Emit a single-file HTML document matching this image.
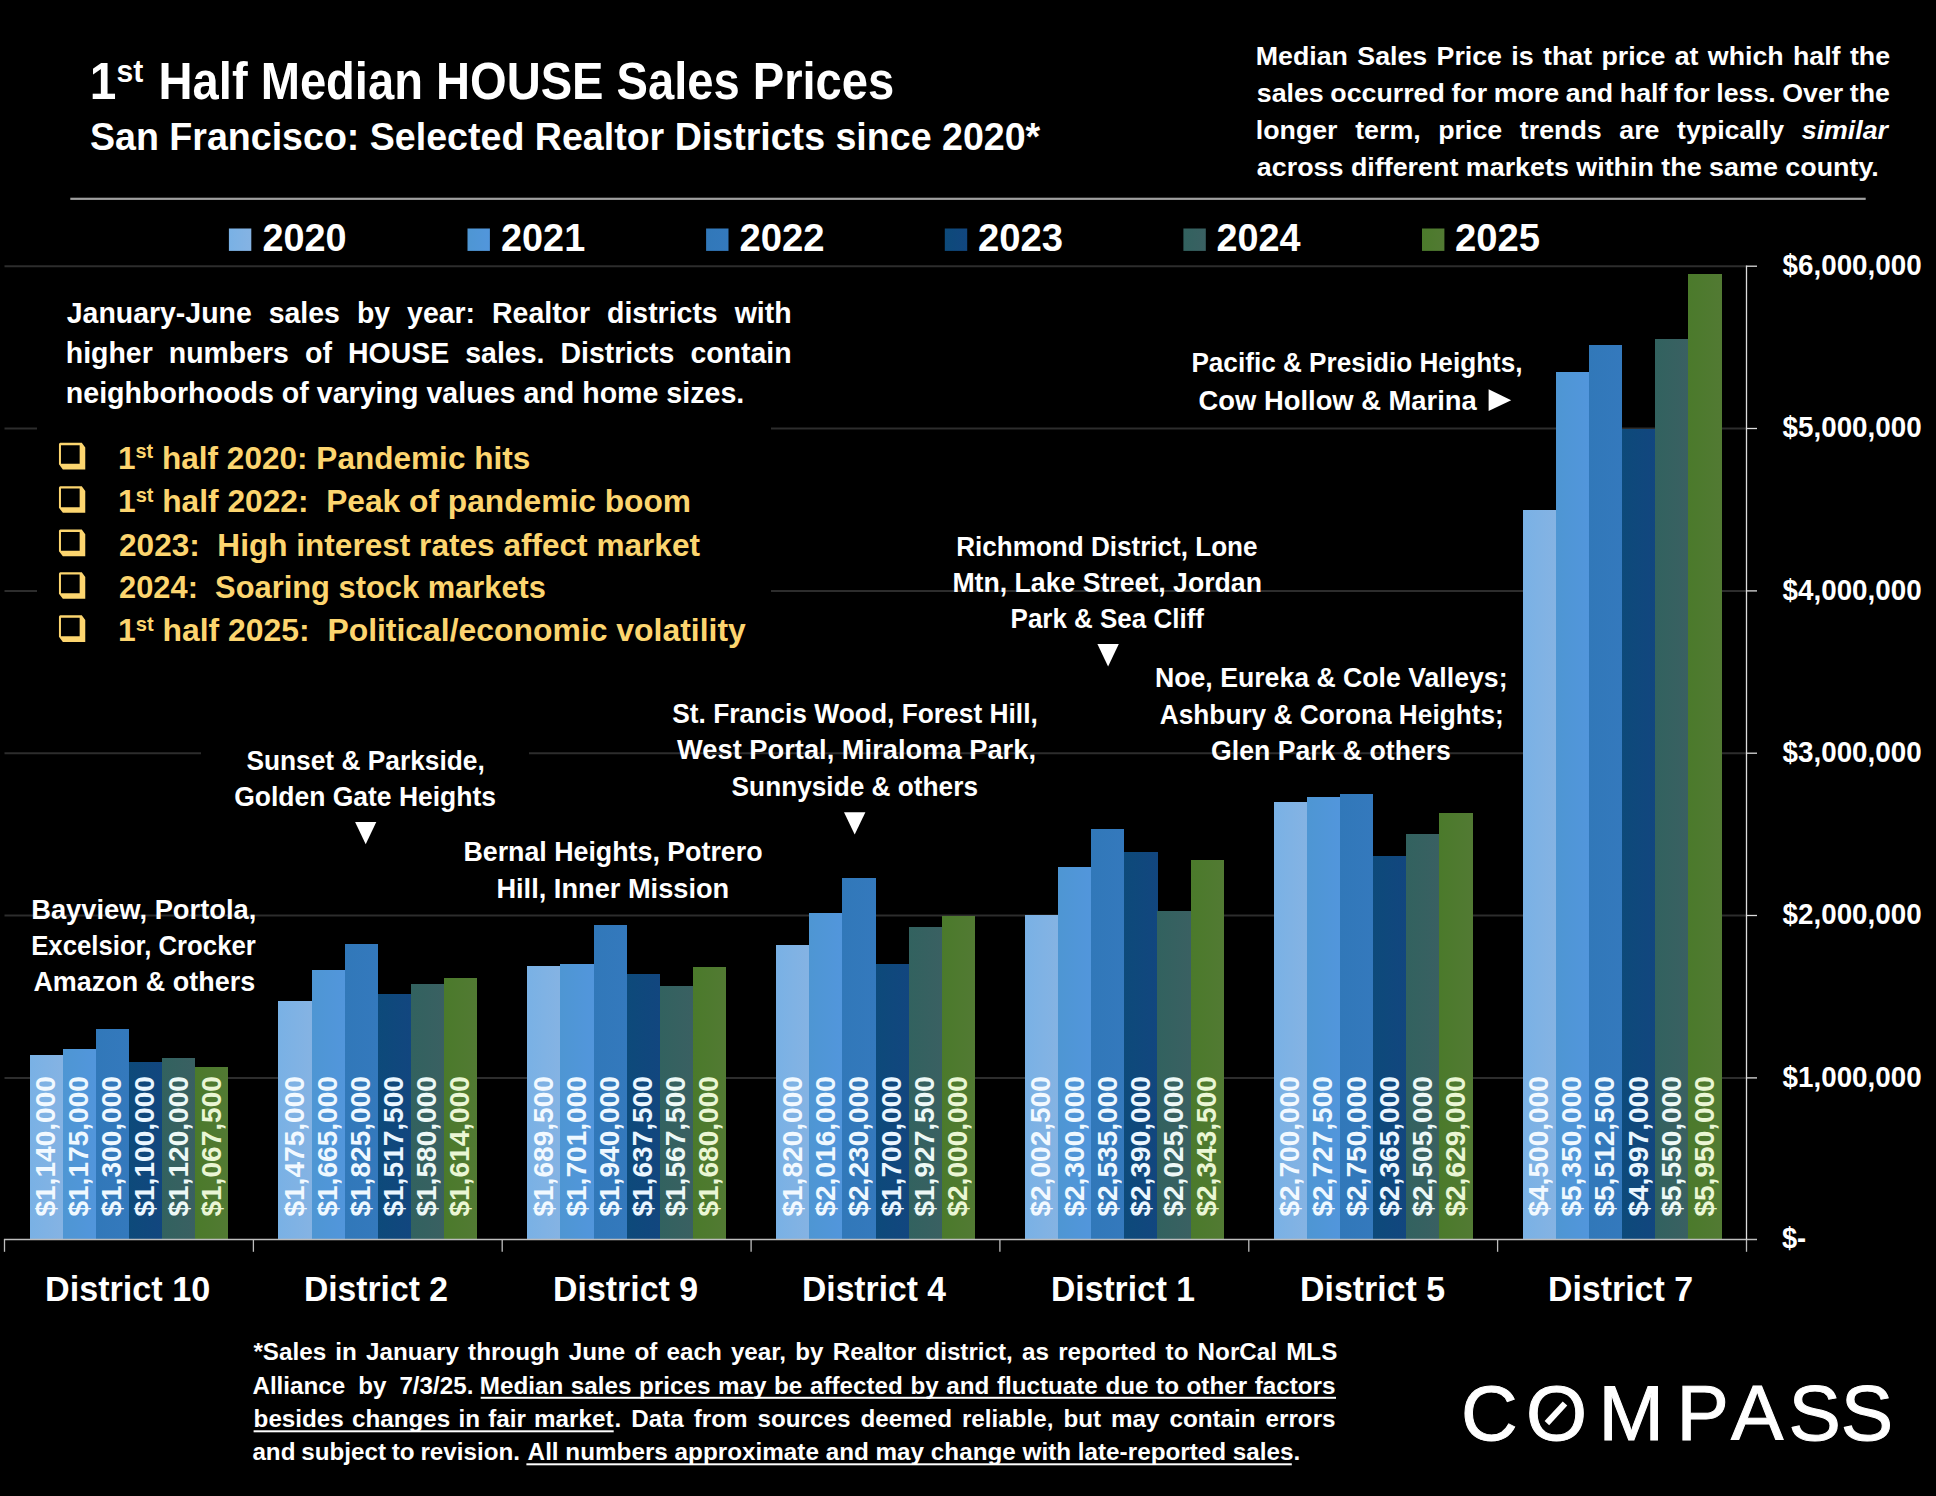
<!DOCTYPE html>
<html lang="en"><head><meta charset="utf-8"><title>1st Half Median HOUSE Sales Prices - San Francisco</title>
<style>html,body{margin:0;padding:0;background:#000}body{width:1936px;height:1496px;overflow:hidden}svg{display:block}text{white-space:pre}</style></head><body>
<svg width="1936" height="1496" viewBox="0 0 1936 1496">
<rect width="1936" height="1496" fill="#000"/>
<g font-family='"Liberation Sans", sans-serif' font-weight="bold" fill="#fff">
<defs>
<linearGradient id="g0" x1="0" y1="0" x2="1" y2="0"><stop offset="0" stop-color="#79b1e5"/><stop offset="1" stop-color="#85b3e3"/></linearGradient>
<linearGradient id="g1" x1="0" y1="0" x2="1" y2="0"><stop offset="0" stop-color="#4e96d3"/><stop offset="1" stop-color="#5296dc"/></linearGradient>
<linearGradient id="g2" x1="0" y1="0" x2="1" y2="0"><stop offset="0" stop-color="#3178b9"/><stop offset="1" stop-color="#3479bd"/></linearGradient>
<linearGradient id="g3" x1="0" y1="0" x2="1" y2="0"><stop offset="0" stop-color="#0d4a7a"/><stop offset="1" stop-color="#12467f"/></linearGradient>
<linearGradient id="g4" x1="0" y1="0" x2="1" y2="0"><stop offset="0" stop-color="#32625f"/><stop offset="1" stop-color="#3a6062"/></linearGradient>
<linearGradient id="g5" x1="0" y1="0" x2="1" y2="0"><stop offset="0" stop-color="#4b7a2b"/><stop offset="1" stop-color="#527a33"/></linearGradient>
</defs>
<g stroke="#2d2d2d" stroke-width="2">
<line x1="4.5" y1="1077.9" x2="1746.5" y2="1077.9"/>
<line x1="4.5" y1="915.5" x2="1746.5" y2="915.5"/>
<line x1="4.5" y1="753.2" x2="1746.5" y2="753.2"/>
<line x1="4.5" y1="590.9" x2="1746.5" y2="590.9"/>
<line x1="4.5" y1="428.5" x2="1746.5" y2="428.5"/>
<line x1="4.5" y1="266.2" x2="1746.5" y2="266.2"/>
</g>
<rect x="37" y="290" width="734" height="372" fill="#000"/>
<rect x="201" y="735" width="328" height="112" fill="#000"/>
<rect x="70.3" y="197.7" width="1795.4" height="2.2" fill="#a0a0a0"/>
<rect x="228.9" y="228.5" width="22.4" height="22.4" fill="url(#g0)"/>
<rect x="467.5" y="228.5" width="22.4" height="22.4" fill="url(#g1)"/>
<rect x="706.1" y="228.5" width="22.4" height="22.4" fill="url(#g2)"/>
<rect x="944.8" y="228.5" width="22.4" height="22.4" fill="url(#g3)"/>
<rect x="1183.4" y="228.5" width="22.4" height="22.4" fill="url(#g4)"/>
<rect x="1422.0" y="228.5" width="22.4" height="22.4" fill="url(#g5)"/>
<g shape-rendering="crispEdges">
<rect x="29.54" y="1055.14" width="33.18" height="184.46" fill="url(#g0)"/>
<rect x="62.67" y="1049.46" width="33.18" height="190.14" fill="url(#g1)"/>
<rect x="95.80" y="1029.17" width="33.18" height="210.43" fill="url(#g2)"/>
<rect x="128.93" y="1061.63" width="33.18" height="177.97" fill="url(#g3)"/>
<rect x="162.06" y="1058.39" width="33.18" height="181.21" fill="url(#g4)"/>
<rect x="195.19" y="1066.91" width="33.18" height="172.69" fill="url(#g5)"/>
<rect x="278.40" y="1000.76" width="33.18" height="238.84" fill="url(#g0)"/>
<rect x="311.53" y="969.91" width="33.18" height="269.68" fill="url(#g1)"/>
<rect x="344.66" y="943.94" width="33.18" height="295.66" fill="url(#g2)"/>
<rect x="377.79" y="993.86" width="33.18" height="245.74" fill="url(#g3)"/>
<rect x="410.92" y="983.71" width="33.18" height="255.89" fill="url(#g4)"/>
<rect x="444.05" y="978.19" width="33.18" height="261.41" fill="url(#g5)"/>
<rect x="527.25" y="965.94" width="33.18" height="273.66" fill="url(#g0)"/>
<rect x="560.38" y="964.07" width="33.18" height="275.53" fill="url(#g1)"/>
<rect x="593.51" y="925.27" width="33.18" height="314.33" fill="url(#g2)"/>
<rect x="626.64" y="974.38" width="33.18" height="265.22" fill="url(#g3)"/>
<rect x="659.77" y="985.74" width="33.18" height="253.86" fill="url(#g4)"/>
<rect x="692.90" y="967.48" width="33.18" height="272.12" fill="url(#g5)"/>
<rect x="776.11" y="944.75" width="33.18" height="294.85" fill="url(#g0)"/>
<rect x="809.24" y="912.94" width="33.18" height="326.66" fill="url(#g1)"/>
<rect x="842.37" y="878.20" width="33.18" height="361.40" fill="url(#g2)"/>
<rect x="875.50" y="964.23" width="33.18" height="275.37" fill="url(#g3)"/>
<rect x="908.63" y="927.30" width="33.18" height="312.30" fill="url(#g4)"/>
<rect x="941.76" y="915.53" width="33.18" height="324.07" fill="url(#g5)"/>
<rect x="1024.97" y="915.13" width="33.18" height="324.47" fill="url(#g0)"/>
<rect x="1058.10" y="866.83" width="33.18" height="372.77" fill="url(#g1)"/>
<rect x="1091.23" y="828.69" width="33.18" height="410.91" fill="url(#g2)"/>
<rect x="1124.36" y="852.22" width="33.18" height="387.38" fill="url(#g3)"/>
<rect x="1157.49" y="911.48" width="33.18" height="328.12" fill="url(#g4)"/>
<rect x="1190.62" y="859.77" width="33.18" height="379.83" fill="url(#g5)"/>
<rect x="1273.82" y="801.90" width="33.18" height="437.70" fill="url(#g0)"/>
<rect x="1306.95" y="797.44" width="33.18" height="442.16" fill="url(#g1)"/>
<rect x="1340.08" y="793.78" width="33.18" height="445.82" fill="url(#g2)"/>
<rect x="1373.21" y="856.28" width="33.18" height="383.32" fill="url(#g3)"/>
<rect x="1406.34" y="833.56" width="33.18" height="406.04" fill="url(#g4)"/>
<rect x="1439.47" y="813.43" width="33.18" height="426.17" fill="url(#g5)"/>
<rect x="1522.68" y="509.70" width="33.18" height="729.90" fill="url(#g0)"/>
<rect x="1555.81" y="371.72" width="33.18" height="867.88" fill="url(#g1)"/>
<rect x="1588.94" y="345.34" width="33.18" height="894.26" fill="url(#g2)"/>
<rect x="1622.07" y="429.02" width="33.18" height="810.58" fill="url(#g3)"/>
<rect x="1655.20" y="339.25" width="33.18" height="900.35" fill="url(#g4)"/>
<rect x="1688.33" y="274.32" width="33.18" height="965.28" fill="url(#g5)"/>
</g>
<g stroke="#bdbdbd" stroke-width="1.3" fill="none">
<line x1="3.9" y1="1239.5" x2="1757.0" y2="1239.5"/>
<line x1="4.5" y1="1239.5" x2="4.5" y2="1251.8"/>
<line x1="253.4" y1="1239.5" x2="253.4" y2="1251.8"/>
<line x1="502.2" y1="1239.5" x2="502.2" y2="1251.8"/>
<line x1="751.1" y1="1239.5" x2="751.1" y2="1251.8"/>
<line x1="999.9" y1="1239.5" x2="999.9" y2="1251.8"/>
<line x1="1248.8" y1="1239.5" x2="1248.8" y2="1251.8"/>
<line x1="1497.6" y1="1239.5" x2="1497.6" y2="1251.8"/>
<line x1="1746.5" y1="1239.5" x2="1746.5" y2="1251.8"/>
</g><g stroke="#dcdcdc" stroke-width="1.3" fill="none">
<line x1="1746.5" y1="265.6" x2="1746.5" y2="1239.5"/>
<line x1="1746.5" y1="1077.9" x2="1757.0" y2="1077.9"/>
<line x1="1746.5" y1="915.5" x2="1757.0" y2="915.5"/>
<line x1="1746.5" y1="753.2" x2="1757.0" y2="753.2"/>
<line x1="1746.5" y1="590.9" x2="1757.0" y2="590.9"/>
<line x1="1746.5" y1="428.5" x2="1757.0" y2="428.5"/>
<line x1="1746.5" y1="266.2" x2="1757.0" y2="266.2"/>
</g>
<text font-size="28" transform="translate(54.9 1216.6) rotate(-90)" textLength="140.5" lengthAdjust="spacingAndGlyphs" fill="#f2f9ff">$1,140,000</text>
<text font-size="28" transform="translate(88.1 1216.6) rotate(-90)" textLength="140.5" lengthAdjust="spacingAndGlyphs" fill="#eef8ff">$1,175,000</text>
<text font-size="28" transform="translate(121.2 1216.6) rotate(-90)" textLength="140.5" lengthAdjust="spacingAndGlyphs" fill="#eef8ff">$1,300,000</text>
<text font-size="28" transform="translate(154.3 1216.6) rotate(-90)" textLength="140.5" lengthAdjust="spacingAndGlyphs" fill="#eaf6ff">$1,100,000</text>
<text font-size="28" transform="translate(187.5 1216.6) rotate(-90)" textLength="140.5" lengthAdjust="spacingAndGlyphs" fill="#edf8f6">$1,120,000</text>
<text font-size="28" transform="translate(220.6 1216.6) rotate(-90)" textLength="140.5" lengthAdjust="spacingAndGlyphs" fill="#eaf6d4">$1,067,500</text>
<text font-size="28" transform="translate(303.8 1216.6) rotate(-90)" textLength="140.5" lengthAdjust="spacingAndGlyphs" fill="#f2f9ff">$1,475,000</text>
<text font-size="28" transform="translate(336.9 1216.6) rotate(-90)" textLength="140.5" lengthAdjust="spacingAndGlyphs" fill="#eef8ff">$1,665,000</text>
<text font-size="28" transform="translate(370.1 1216.6) rotate(-90)" textLength="140.5" lengthAdjust="spacingAndGlyphs" fill="#eef8ff">$1,825,000</text>
<text font-size="28" transform="translate(403.2 1216.6) rotate(-90)" textLength="140.5" lengthAdjust="spacingAndGlyphs" fill="#eaf6ff">$1,517,500</text>
<text font-size="28" transform="translate(436.3 1216.6) rotate(-90)" textLength="140.5" lengthAdjust="spacingAndGlyphs" fill="#edf8f6">$1,580,000</text>
<text font-size="28" transform="translate(469.4 1216.6) rotate(-90)" textLength="140.5" lengthAdjust="spacingAndGlyphs" fill="#eaf6d4">$1,614,000</text>
<text font-size="28" transform="translate(552.7 1216.6) rotate(-90)" textLength="140.5" lengthAdjust="spacingAndGlyphs" fill="#f2f9ff">$1,689,500</text>
<text font-size="28" transform="translate(585.8 1216.6) rotate(-90)" textLength="140.5" lengthAdjust="spacingAndGlyphs" fill="#eef8ff">$1,701,000</text>
<text font-size="28" transform="translate(618.9 1216.6) rotate(-90)" textLength="140.5" lengthAdjust="spacingAndGlyphs" fill="#eef8ff">$1,940,000</text>
<text font-size="28" transform="translate(652.0 1216.6) rotate(-90)" textLength="140.5" lengthAdjust="spacingAndGlyphs" fill="#eaf6ff">$1,637,500</text>
<text font-size="28" transform="translate(685.2 1216.6) rotate(-90)" textLength="140.5" lengthAdjust="spacingAndGlyphs" fill="#edf8f6">$1,567,500</text>
<text font-size="28" transform="translate(718.3 1216.6) rotate(-90)" textLength="140.5" lengthAdjust="spacingAndGlyphs" fill="#eaf6d4">$1,680,000</text>
<text font-size="28" transform="translate(801.5 1216.6) rotate(-90)" textLength="140.5" lengthAdjust="spacingAndGlyphs" fill="#f2f9ff">$1,820,000</text>
<text font-size="28" transform="translate(834.6 1216.6) rotate(-90)" textLength="140.5" lengthAdjust="spacingAndGlyphs" fill="#eef8ff">$2,016,000</text>
<text font-size="28" transform="translate(867.8 1216.6) rotate(-90)" textLength="140.5" lengthAdjust="spacingAndGlyphs" fill="#eef8ff">$2,230,000</text>
<text font-size="28" transform="translate(900.9 1216.6) rotate(-90)" textLength="140.5" lengthAdjust="spacingAndGlyphs" fill="#eaf6ff">$1,700,000</text>
<text font-size="28" transform="translate(934.0 1216.6) rotate(-90)" textLength="140.5" lengthAdjust="spacingAndGlyphs" fill="#edf8f6">$1,927,500</text>
<text font-size="28" transform="translate(967.2 1216.6) rotate(-90)" textLength="140.5" lengthAdjust="spacingAndGlyphs" fill="#eaf6d4">$2,000,000</text>
<text font-size="28" transform="translate(1050.4 1216.6) rotate(-90)" textLength="140.5" lengthAdjust="spacingAndGlyphs" fill="#f2f9ff">$2,002,500</text>
<text font-size="28" transform="translate(1083.5 1216.6) rotate(-90)" textLength="140.5" lengthAdjust="spacingAndGlyphs" fill="#eef8ff">$2,300,000</text>
<text font-size="28" transform="translate(1116.6 1216.6) rotate(-90)" textLength="140.5" lengthAdjust="spacingAndGlyphs" fill="#eef8ff">$2,535,000</text>
<text font-size="28" transform="translate(1149.8 1216.6) rotate(-90)" textLength="140.5" lengthAdjust="spacingAndGlyphs" fill="#eaf6ff">$2,390,000</text>
<text font-size="28" transform="translate(1182.9 1216.6) rotate(-90)" textLength="140.5" lengthAdjust="spacingAndGlyphs" fill="#edf8f6">$2,025,000</text>
<text font-size="28" transform="translate(1216.0 1216.6) rotate(-90)" textLength="140.5" lengthAdjust="spacingAndGlyphs" fill="#eaf6d4">$2,343,500</text>
<text font-size="28" transform="translate(1299.2 1216.6) rotate(-90)" textLength="140.5" lengthAdjust="spacingAndGlyphs" fill="#f2f9ff">$2,700,000</text>
<text font-size="28" transform="translate(1332.4 1216.6) rotate(-90)" textLength="140.5" lengthAdjust="spacingAndGlyphs" fill="#eef8ff">$2,727,500</text>
<text font-size="28" transform="translate(1365.5 1216.6) rotate(-90)" textLength="140.5" lengthAdjust="spacingAndGlyphs" fill="#eef8ff">$2,750,000</text>
<text font-size="28" transform="translate(1398.6 1216.6) rotate(-90)" textLength="140.5" lengthAdjust="spacingAndGlyphs" fill="#eaf6ff">$2,365,000</text>
<text font-size="28" transform="translate(1431.7 1216.6) rotate(-90)" textLength="140.5" lengthAdjust="spacingAndGlyphs" fill="#edf8f6">$2,505,000</text>
<text font-size="28" transform="translate(1464.9 1216.6) rotate(-90)" textLength="140.5" lengthAdjust="spacingAndGlyphs" fill="#eaf6d4">$2,629,000</text>
<text font-size="28" transform="translate(1548.1 1216.6) rotate(-90)" textLength="140.5" lengthAdjust="spacingAndGlyphs" fill="#f2f9ff">$4,500,000</text>
<text font-size="28" transform="translate(1581.2 1216.6) rotate(-90)" textLength="140.5" lengthAdjust="spacingAndGlyphs" fill="#eef8ff">$5,350,000</text>
<text font-size="28" transform="translate(1614.3 1216.6) rotate(-90)" textLength="140.5" lengthAdjust="spacingAndGlyphs" fill="#eef8ff">$5,512,500</text>
<text font-size="28" transform="translate(1647.5 1216.6) rotate(-90)" textLength="140.5" lengthAdjust="spacingAndGlyphs" fill="#eaf6ff">$4,997,000</text>
<text font-size="28" transform="translate(1680.6 1216.6) rotate(-90)" textLength="140.5" lengthAdjust="spacingAndGlyphs" fill="#edf8f6">$5,550,000</text>
<text font-size="28" transform="translate(1713.7 1216.6) rotate(-90)" textLength="140.5" lengthAdjust="spacingAndGlyphs" fill="#eaf6d4">$5,950,000</text>
<path transform="translate(58.96 442.75)" fill-rule="evenodd" fill="#fcd56f" d="M1.5 0H22.8L26.3 4.8V26.7H3.9L0 21.6V1.5Q0 0 1.5 0ZM2 2.4V21.1H20.7V2.4Z"/>
<path transform="translate(58.96 486.15)" fill-rule="evenodd" fill="#fcd56f" d="M1.5 0H22.8L26.3 4.8V26.7H3.9L0 21.6V1.5Q0 0 1.5 0ZM2 2.4V21.1H20.7V2.4Z"/>
<path transform="translate(58.96 529.55)" fill-rule="evenodd" fill="#fcd56f" d="M1.5 0H22.8L26.3 4.8V26.7H3.9L0 21.6V1.5Q0 0 1.5 0ZM2 2.4V21.1H20.7V2.4Z"/>
<path transform="translate(58.96 572.15)" fill-rule="evenodd" fill="#fcd56f" d="M1.5 0H22.8L26.3 4.8V26.7H3.9L0 21.6V1.5Q0 0 1.5 0ZM2 2.4V21.1H20.7V2.4Z"/>
<path transform="translate(58.96 615.25)" fill-rule="evenodd" fill="#fcd56f" d="M1.5 0H22.8L26.3 4.8V26.7H3.9L0 21.6V1.5Q0 0 1.5 0ZM2 2.4V21.1H20.7V2.4Z"/>
<rect x="480.7" y="1396.8" width="855.3" height="2" fill="#fff"/>
<rect x="253.6" y="1430.3" width="360.1" height="2" fill="#fff"/>
<rect x="526.4" y="1463.3" width="765.4" height="2" fill="#fff"/>
<path d="M355.1 822.0H376.3L365.7 844.3Z" fill="#fff"/>
<path d="M844.0 812.3H865.4L854.7 834.4Z" fill="#fff"/>
<path d="M1097.4 643.9H1118.8L1108.1 666.6Z" fill="#fff"/>
<path d="M1488.6 389.3V411.1L1511.2 400.2Z" fill="#fff"/>
<text x="1461.1 1526.1 1598.4 1676.5 1730.9 1788.6 1840.8" y="1440" font-size="78.5" font-weight="normal" stroke="#fff" stroke-width="1">COMPASS</text>
<line x1="1546.9" y1="1423.1" x2="1565" y2="1403.5" stroke="#fff" stroke-width="6.2"/>
<text id="t1a" transform="translate(89.8 99.2) scale(0.9378 1)" font-size="51.00">1<tspan dy="-16.83" font-size="32.13">st</tspan><tspan dy="16.83" font-size="51.00"></tspan></text>
<text id="t1b" transform="translate(158.6 99.2) scale(0.9239 1)" font-size="51.00">Half Median HOUSE Sales Prices</text>
<text id="t2" transform="translate(90.0 150.0) scale(0.9565 1)" font-size="39.30">San Francisco: Selected Realtor Districts since 2020*</text>
<text id="p1a" transform="translate(1255.8 65.3) scale(1.0415 1)" font-size="25.70" style="word-spacing:1.853px">Median Sales Price is that price at which half the</text>
<text id="p1b" transform="translate(1256.8 102.1) scale(1.0415 1)" font-size="25.70" style="word-spacing:-0.795px">sales occurred for more and half for less. Over the</text>
<text id="p1c" transform="translate(1255.8 138.8) scale(1.0415 1)" font-size="25.70" style="word-spacing:9.825px">longer term, price trends are typically <tspan font-style="italic">similar</tspan></text>
<text id="p1d" transform="translate(1256.8 176.0) scale(1.0458 1)" font-size="25.70">across different markets within the same county.</text>
<text id="lg0" transform="translate(262.5 251.2) scale(0.9898 1)" font-size="38.20">2020</text>
<text id="lg1" transform="translate(501.1 251.2) scale(0.9894 1)" font-size="38.20">2021</text>
<text id="lg2" transform="translate(739.5 251.2) scale(1.0019 1)" font-size="38.20">2022</text>
<text id="lg3" transform="translate(978.0 251.2) scale(1.0019 1)" font-size="38.20">2023</text>
<text id="lg4" transform="translate(1216.5 251.2) scale(0.9892 1)" font-size="38.20">2024</text>
<text id="lg5" transform="translate(1454.9 251.2) scale(1.0020 1)" font-size="38.20">2025</text>
<text id="ax1" transform="translate(1782.6 1086.7) scale(0.9615 1)" font-size="28.90">$1,000,000</text>
<text id="ax2" transform="translate(1782.6 924.3) scale(0.9615 1)" font-size="28.90">$2,000,000</text>
<text id="ax3" transform="translate(1782.6 762.0) scale(0.9615 1)" font-size="28.90">$3,000,000</text>
<text id="ax4" transform="translate(1782.6 599.7) scale(0.9615 1)" font-size="28.90">$4,000,000</text>
<text id="ax5" transform="translate(1782.6 437.3) scale(0.9615 1)" font-size="28.90">$5,000,000</text>
<text id="ax6" transform="translate(1782.6 275.0) scale(0.9615 1)" font-size="28.90">$6,000,000</text>
<text id="ax0" transform="translate(1781.9 1248.0) scale(0.9425 1)" font-size="28.90">$-</text>
<text id="p2a" transform="translate(66.8 322.8) scale(0.9486 1)" font-size="30.00" style="word-spacing:9.598px">January-June sales by year: Realtor districts with</text>
<text id="p2b" transform="translate(65.8 363.0) scale(0.9486 1)" font-size="30.00" style="word-spacing:8.680px">higher numbers of HOUSE sales. Districts contain</text>
<text id="p2c" transform="translate(65.8 403.3) scale(0.9537 1)" font-size="30.00">neighborhoods of varying values and home sizes.</text>
<text id="b0" transform="translate(118.0 468.8) scale(0.9928 1)" font-size="31.80" fill="#fcd56f">1<tspan dy="-10.49" font-size="20.03">st</tspan><tspan dy="10.49" font-size="31.80"> half 2020: Pandemic hits</tspan></text>
<text id="b1" transform="translate(118.0 512.2) scale(0.9979 1)" font-size="31.80" fill="#fcd56f">1<tspan dy="-10.49" font-size="20.03">st</tspan><tspan dy="10.49" font-size="31.80"> half 2022:  Peak of pandemic boom</tspan></text>
<text id="b2" transform="translate(119.0 555.6) scale(0.9933 1)" font-size="31.80" fill="#fcd56f">2023:  High interest rates affect market</text>
<text id="b3" transform="translate(119.0 598.2) scale(0.9703 1)" font-size="31.80" fill="#fcd56f">2024:  Soaring stock markets</text>
<text id="b4" transform="translate(118.0 641.3) scale(1.0037 1)" font-size="31.80" fill="#fcd56f">1<tspan dy="-10.49" font-size="20.03">st</tspan><tspan dy="10.49" font-size="31.80"> half 2025:  Political/economic volatility</tspan></text>
<text id="a1a" transform="translate(31.2 919.4) scale(1.0196 1)" font-size="26.80">Bayview, Portola,</text>
<text id="a1b" transform="translate(31.2 955.1) scale(0.9604 1)" font-size="26.80">Excelsior, Crocker</text>
<text id="a1c" transform="translate(33.4 991.4) scale(1.0066 1)" font-size="26.80">Amazon &amp; others</text>
<text id="a2a" transform="translate(246.4 769.8) scale(0.9822 1)" font-size="26.80">Sunset &amp; Parkside,</text>
<text id="a2b" transform="translate(234.2 806.0) scale(0.9879 1)" font-size="26.80">Golden Gate Heights</text>
<text id="a3a" transform="translate(463.4 861.0) scale(0.9998 1)" font-size="26.80">Bernal Heights, Potrero</text>
<text id="a3b" transform="translate(496.4 897.8) scale(1.0156 1)" font-size="26.80">Hill, Inner Mission</text>
<text id="a4a" transform="translate(672.2 722.6) scale(0.9836 1)" font-size="26.80">St. Francis Wood, Forest Hill,</text>
<text id="a4b" transform="translate(677.0 759.4) scale(1.0186 1)" font-size="26.80">West Portal, Miraloma Park,</text>
<text id="a4c" transform="translate(731.6 795.9) scale(0.9793 1)" font-size="26.80">Sunnyside &amp; others</text>
<text id="a5a" transform="translate(956.2 555.8) scale(0.9733 1)" font-size="26.80">Richmond District, Lone</text>
<text id="a5b" transform="translate(952.4 591.7) scale(0.9949 1)" font-size="26.80">Mtn, Lake Street, Jordan</text>
<text id="a5c" transform="translate(1010.6 627.9) scale(0.9691 1)" font-size="26.80">Park &amp; Sea Cliff</text>
<text id="a6a" transform="translate(1155.0 687.1) scale(0.9948 1)" font-size="26.80">Noe, Eureka &amp; Cole Valleys;</text>
<text id="a6b" transform="translate(1159.8 723.9) scale(0.9792 1)" font-size="26.80">Ashbury &amp; Corona Heights;</text>
<text id="a6c" transform="translate(1211.0 760.4) scale(0.9948 1)" font-size="26.80">Glen Park &amp; others</text>
<text id="a7a" transform="translate(1191.4 372.2) scale(0.9756 1)" font-size="26.80">Pacific &amp; Presidio Heights,</text>
<text id="a7b" transform="translate(1198.6 409.5) scale(1.0211 1)" font-size="26.80">Cow Hollow &amp; Marina</text>
<text id="d0" transform="translate(45.0 1301.1) scale(0.9796 1)" font-size="34.90">District 10</text>
<text id="d1" transform="translate(303.9 1301.1) scale(0.9650 1)" font-size="34.90">District 2</text>
<text id="d2" transform="translate(553.0 1301.1) scale(0.9716 1)" font-size="34.90">District 9</text>
<text id="d3" transform="translate(802.0 1301.1) scale(0.9646 1)" font-size="34.90">District 4</text>
<text id="d4" transform="translate(1051.0 1301.1) scale(0.9649 1)" font-size="34.90">District 1</text>
<text id="d5" transform="translate(1300.0 1301.1) scale(0.9716 1)" font-size="34.90">District 5</text>
<text id="d6" transform="translate(1547.9 1301.1) scale(0.9720 1)" font-size="34.90">District 7</text>
<text id="f1" transform="translate(253.4 1360.3) scale(1.0494 1)" font-size="23.10" style="word-spacing:2.340px">*Sales in January through June of each year, by Realtor district, as reported to NorCal MLS</text>
<text id="f2a" transform="translate(252.4 1393.6) scale(1.0494 1)" font-size="23.10" style="word-spacing:5.899px">Alliance by 7/3/25.</text>
<text id="f2b" transform="translate(479.8 1393.6) scale(1.0494 1)" font-size="23.10" style="word-spacing:0.829px">Median sales prices may be affected by and fluctuate due to other factors</text>
<text id="f3a" transform="translate(253.6 1427.1) scale(1.0494 1)" font-size="23.10" style="word-spacing:1.391px">besides changes in fair market</text>
<text id="f3b" transform="translate(614.6 1427.1) scale(1.0494 1)" font-size="23.10" style="word-spacing:3.084px">. Data from sources deemed reliable, but may contain errors</text>
<text id="f4a" transform="translate(252.4 1460.1) scale(1.0494 1)" font-size="23.10" style="word-spacing:-0.916px">and subject to revision.</text>
<text id="f4" transform="translate(527.6 1460.1) scale(1.0509 1)" font-size="23.10">All numbers approximate and may change with late-reported sales.</text>
</g></svg></body></html>
